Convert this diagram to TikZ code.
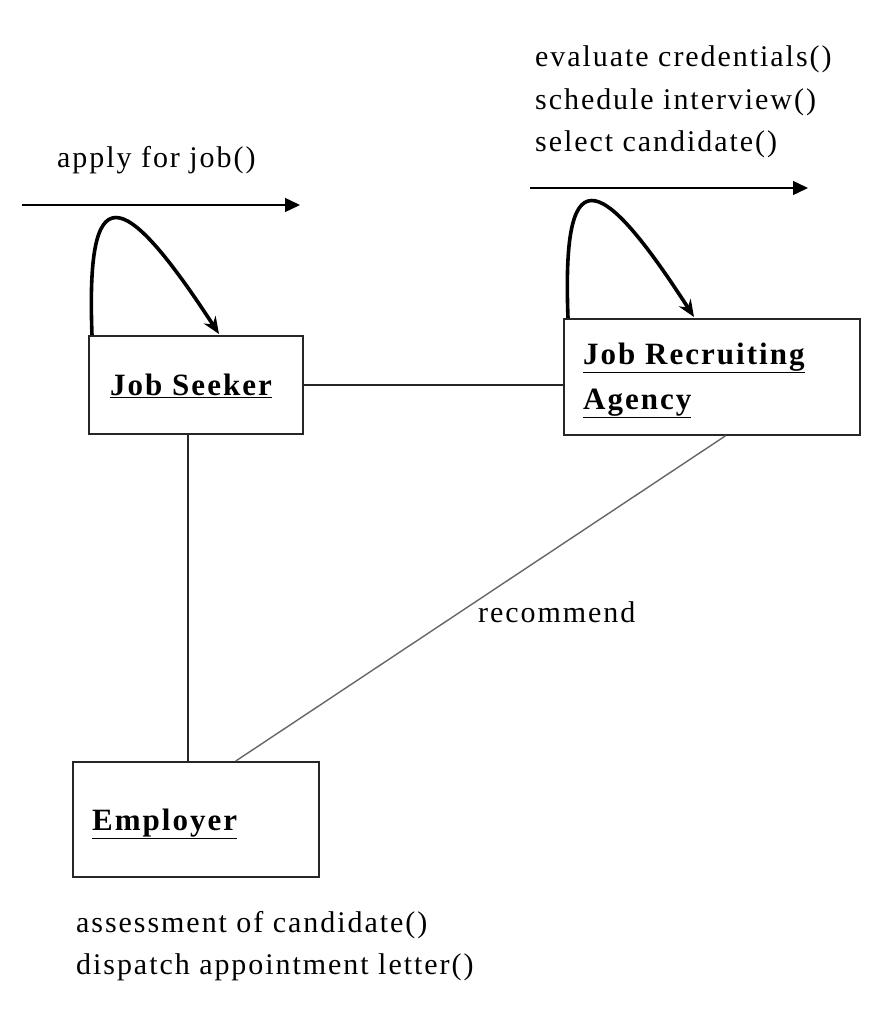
\documentclass[tikz,border=0pt]{standalone}
\usepackage{fontspec}
\setmainfont{Liberation Serif}[LetterSpace=6.5]
\usetikzlibrary{arrows.meta}
\begin{document}
\begin{tikzpicture}[x=1pt,y=-1pt,
  box/.style={draw=black!85,line width=1.6pt,inner sep=0pt,anchor=north west},
  msg/.style={font=\fontsize{30}{42}\selectfont,anchor=base west,inner sep=0pt,align=left},
  title/.style={font=\fontsize{31}{45}\selectfont\bfseries,anchor=base west,inner sep=0pt,align=left},
  link/.style={line width=1.4pt,black!85},
  loopline/.style={line width=3.6pt,-{Stealth[length=17pt,width=14pt]}},
  msgarrow/.style={line width=1.4pt,-{Triangle[length=15pt,width=14pt]}}]
\useasboundingbox (0,0) rectangle (869,1022);
% boxes
\node[box,minimum width=214pt,minimum height=98pt] (js) at (88,335) {};
\node[box,minimum width=296pt,minimum height=116pt] (ag) at (563,318) {};
\node[box,minimum width=246pt,minimum height=115pt] (emp) at (72,761) {};
% titles
\node[title] (jst) at (110,395) {\underline{Job Seeker}};
\node[title] (agt1) at (583,364) {\underline{Job Recruiting}};
\node[title] (agt2) at (583,409) {\underline{Agency}};
\node[title] (empt) at (92,830) {\underline{Employer}};
% messages
\node[msg] (m1) at (57,167) {apply for job()};
\node[msg] (m2) at (535,67) {evaluate credentials()};
\node[msg] (m3) at (535,110) {schedule interview()};
\node[msg] (m4) at (535,151) {select candidate()};
\node[msg] (m5) at (478,622) {recommend};
\node[msg] (m6) at (76,932) {assessment of candidate()};
\node[msg] (m7) at (76,974) {dispatch appointment letter()};
% message arrows
\coordinate (a1s) at (22,205);
\coordinate (a1e) at (300,205);
\coordinate (a2s) at (530,188);
\coordinate (a2e) at (808,188);
\draw[msgarrow] (a1s) -- (a1e);
\draw[msgarrow] (a2s) -- (a2e);
% self loops
\coordinate (l1s) at (92,335);
\coordinate (l1e) at (219,334);
\coordinate (l2s) at (568,318);
\coordinate (l2e) at (694,317);
\draw[loopline] (l1s) .. controls (86,178) and (120,182) .. (l1e);
\draw[loopline] (l2s) .. controls (562,161) and (596,165) .. (l2e);
% links
\draw[link] (js.east) -- (js.east -| ag.west);
\draw[link] ([xshift=-8pt]js.south) -- ([xshift=-8pt]js.south |- emp.north);
\draw[line width=1.4pt,black!60] ([xshift=14pt]ag.south) -- ([xshift=40pt]emp.north);
\end{tikzpicture}
\end{document}
